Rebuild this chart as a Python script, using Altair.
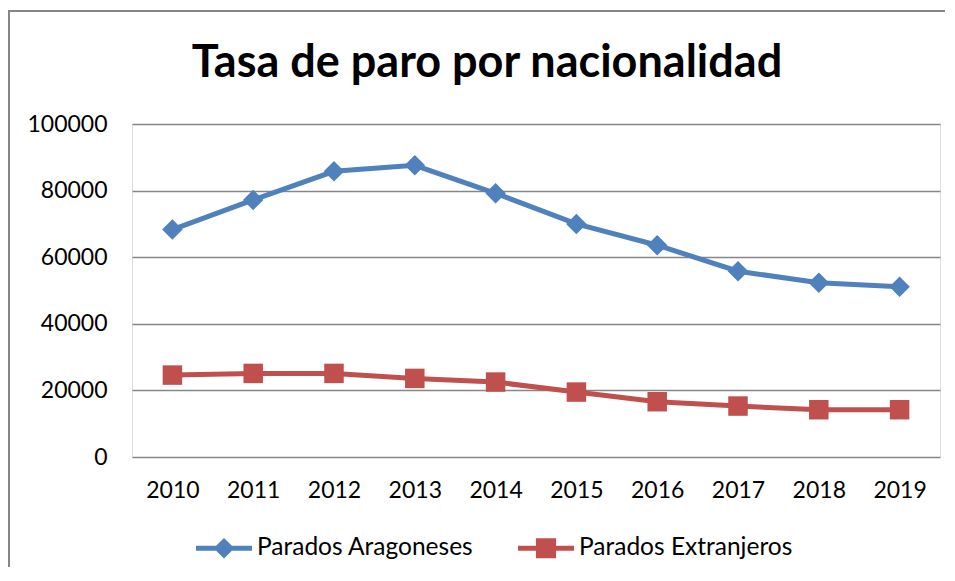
import altair as alt
import pandas as pd

years = ["2010", "2011", "2012", "2013", "2014", "2015", "2016", "2017", "2018", "2019"]
aragoneses = [68300, 77200, 85800, 87600, 79200, 70000, 63600, 55800, 52300, 51100]
extranjeros = [24600, 25100, 25100, 23600, 22500, 19500, 16600, 15300, 14200, 14200]
series_names = ["Parados Aragoneses", "Parados Extranjeros"]
colors = ["#4F81BD", "#C0504D"]
y_ticks = [0, 20000, 40000, 60000, 80000, 100000]
title_text = "Tasa de paro por nacionalidad"

rows = []
for name, vals in zip(series_names, [aragoneses, extranjeros]):
    for yr, v in zip(years, vals):
        rows.append({"year": yr, "value": v, "series": name})
df = pd.DataFrame(rows)

FONT = "Lato"

color_scale = alt.Scale(domain=series_names, range=colors)
# legend symbols: a line segment with the marker on top
legend_paths = [
    "M-1,-0.09L1,-0.09L1,0.09L-1,0.09Z M0,-0.37L0.37,0L0,0.37L-0.37,0Z",
    "M-1,-0.09L1,-0.09L1,0.09L-1,0.09Z M-0.36,-0.36L0.36,-0.36L0.36,0.36L-0.36,0.36Z",
]

x_enc = alt.X(
    "year:N",
    sort=years,
    scale=alt.Scale(type="point", padding=0.5),
    axis=alt.Axis(
        title=None, labelAngle=0, domain=False, ticks=False, grid=False,
        labelFontSize=23, labelFont=FONT, labelColor="#000000", labelPadding=22,
    ),
)
y_enc = alt.Y(
    "value:Q",
    scale=alt.Scale(domain=[0, 100000], nice=False),
    axis=alt.Axis(
        title=None, values=y_ticks, format="d", domain=False, ticks=False,
        grid=True, gridColor="#868686", gridWidth=1.5,
        labelFontSize=23, labelFont=FONT, labelColor="#000000", labelPadding=25,
    ),
)

base = alt.Chart(df).encode(x=x_enc, y=y_enc)

color_enc = alt.Color("series:N", scale=color_scale)

lines = base.mark_line(strokeWidth=5).encode(color=color_enc)
diamonds = base.transform_filter(
    alt.datum.series == series_names[0]
).mark_point(shape="diamond", filled=True, size=420, opacity=1).encode(color=color_enc)
squares = base.transform_filter(
    alt.datum.series == series_names[1]
).mark_point(shape="square", filled=True, size=380, opacity=1).encode(color=color_enc)

legend_props = dict(
    title=None, orient="none", legendX=64, legendY=396, direction="horizontal",
    labelFontSize=24.5, labelFont=FONT, labelColor="#000000", symbolSize=3136,
    symbolStrokeWidth=0, labelOffset=5, columnPadding=44, symbolOpacity=1,
    labelLimit=500,
)
legend_layer = alt.Chart(df).transform_filter("false").mark_point(
    filled=True, opacity=1
).encode(
    x=x_enc, y=y_enc,
    color=alt.Color("series:N", scale=color_scale, legend=alt.Legend(**legend_props)),
    shape=alt.Shape("series:N", scale=alt.Scale(domain=series_names, range=legend_paths),
                    legend=alt.Legend(**legend_props)),
)

border = alt.Chart(pd.DataFrame({"a": [0]})).mark_rect(
    fill="transparent", stroke="#868686", strokeWidth=2
).encode(
    x=alt.value(-123), x2=alt.value(830), y=alt.value(-113), y2=alt.value(480)
)

chart = alt.layer(border, legend_layer, lines, diamonds, squares).properties(
    width=808,
    height=333,
    title=alt.TitleParams(
        title_text, fontSize=45, font=FONT, fontWeight="bold", anchor="middle",
        dx=-49, offset=-76, color="#000000", frame="group",
    ),
    autosize=alt.AutoSizeParams(type="none"),
    padding={"left": 124, "top": 116, "right": 5, "bottom": 110},
).configure_view(stroke=None).configure(background="white")

chart.save("out.html", embed_options={"renderer": "svg", "actions": False})
